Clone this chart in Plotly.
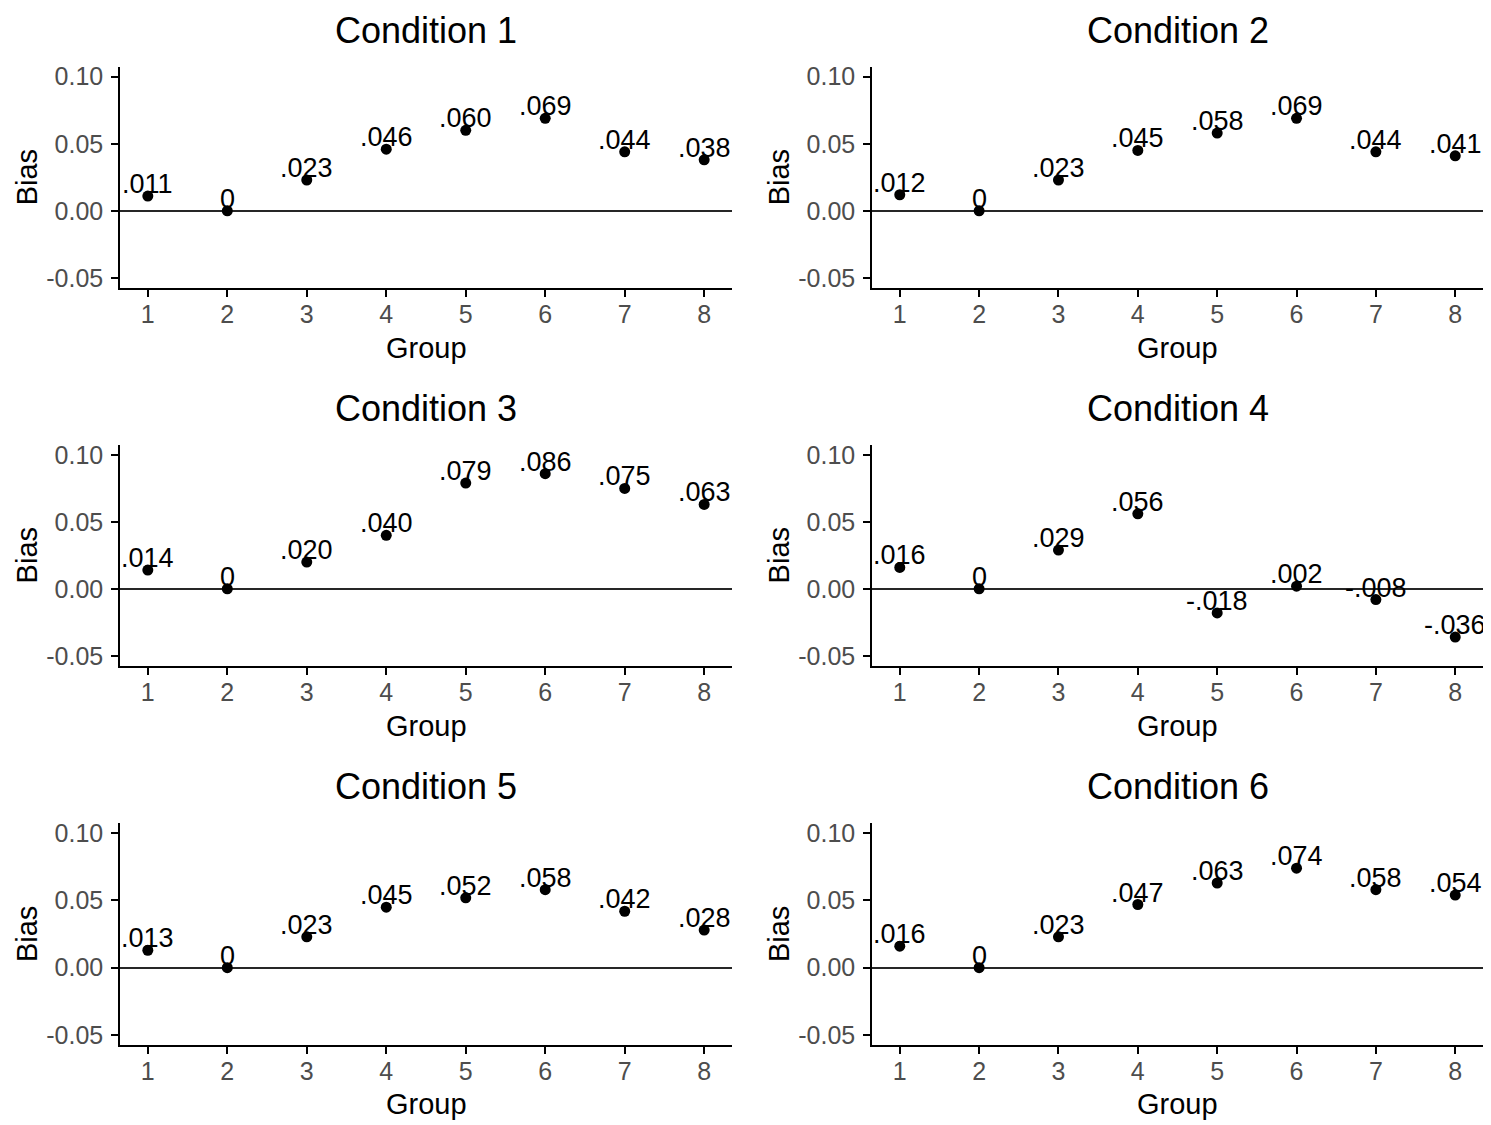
import plotly.graph_objects as go

groups = [1, 2, 3, 4, 5, 6, 7, 8]
conditions = ["Condition 1", "Condition 2", "Condition 3",
              "Condition 4", "Condition 5", "Condition 6"]
bias_c1 = [0.011, 0.000, 0.023, 0.046, 0.060, 0.069, 0.044, 0.038]
bias_c2 = [0.012, 0.000, 0.023, 0.045, 0.058, 0.069, 0.044, 0.041]
bias_c3 = [0.014, 0.000, 0.020, 0.040, 0.079, 0.086, 0.075, 0.063]
bias_c4 = [0.016, 0.000, 0.029, 0.056, -0.018, 0.002, -0.008, -0.036]
bias_c5 = [0.013, 0.000, 0.023, 0.045, 0.052, 0.058, 0.042, 0.028]
bias_c6 = [0.016, 0.000, 0.023, 0.047, 0.063, 0.074, 0.058, 0.054]
all_bias = [bias_c1, bias_c2, bias_c3, bias_c4, bias_c5, bias_c6]
y_ticks = [-0.05, 0.00, 0.05, 0.10]
y_tick_labels = ["-0.05", "0.00", "0.05", "0.10"]


def fmt(v):
    if abs(v) < 1e-12:
        return "0"
    s = f"{v:.3f}"
    return s.replace("0.", ".", 1)


OFF = 8  # page body margin
W, H = 1491 - OFF, 1125 - OFF
FONT = "Arial, Liberation Sans, sans-serif"


def px_x(p):
    return (p - OFF) / W


def px_y(p):
    return 1 - (p - OFF) / H


x_doms = [(px_x(120), px_x(732)), (px_x(872), px_x(1483))]
rows_px = [(63, 286), (444, 666.6), (825, 1048.5)]
y_doms = [(px_y(b), px_y(t)) for (t, b) in rows_px]
title_y_px = [27, 407, 788]
group_y_px = [346, 727, 1108]

fig = go.Figure()
annotations = []
for i, (name, vals) in enumerate(zip(conditions, all_bias)):
    r, c = divmod(i, 2)
    ax = i + 1
    xa = "x" if ax == 1 else f"x{ax}"
    ya = "y" if ax == 1 else f"y{ax}"
    fig.add_trace(go.Scatter(
        x=groups, y=vals, mode="markers",
        marker=dict(color="black", size=11),
        xaxis=xa, yaxis=ya, showlegend=False, hoverinfo="skip"))
    for g, v in zip(groups, vals):
        annotations.append(dict(
            text=fmt(v), x=g, y=v, xref=xa, yref=ya, showarrow=False,
            xanchor="center", yanchor="middle", yshift=12,
            font=dict(family=FONT, size=27, color="black")))
    common = dict(showline=True, linecolor="black", linewidth=1.5,
                  ticks="outside", ticklen=7, tickwidth=1.5, tickcolor="black",
                  showgrid=False, mirror=False,
                  tickfont=dict(family=FONT, size=25, color="#4D4D4D"))
    fig.layout[f"xaxis{ax if ax > 1 else ''}"] = dict(
        domain=x_doms[c], range=[0.65, 8.35], anchor=ya,
        tickvals=groups, ticktext=[str(g) for g in groups],
        ticklabelstandoff=-4,
        zeroline=False, **common)
    fig.layout[f"yaxis{ax if ax > 1 else ''}"] = dict(
        domain=y_doms[r], range=[-0.0575, 0.1075], anchor=xa,
        tickvals=y_ticks, ticktext=y_tick_labels, ticklabelstandoff=3,
        zeroline=True, zerolinecolor="#262626", zerolinewidth=2.2, **common)
    xc = (x_doms[c][0] + x_doms[c][1]) / 2
    annotations.append(dict(text=name, x=xc, y=px_y(title_y_px[r]),
                            xref="paper", yref="paper", showarrow=False,
                            xanchor="center", yanchor="middle",
                            font=dict(family=FONT, size=36, color="black")))
    annotations.append(dict(text="Group", x=xc, y=px_y(group_y_px[r]),
                            xref="paper", yref="paper", showarrow=False,
                            xanchor="center", yanchor="middle",
                            font=dict(family=FONT, size=29, color="black")))
    yc = (y_doms[r][0] + y_doms[r][1]) / 2
    bias_x = 27 if c == 0 else 779
    annotations.append(dict(text="Bias", x=px_x(bias_x), y=yc,
                            xref="paper", yref="paper", showarrow=False,
                            xanchor="center", yanchor="middle", textangle=-90,
                            font=dict(family=FONT, size=29, color="black")))

fig.update_layout(width=W, height=H, margin=dict(l=0, r=0, t=0, b=0),
                  plot_bgcolor="white", paper_bgcolor="white",
                  annotations=annotations, font=dict(family=FONT))
fig.write_html("out.html")
